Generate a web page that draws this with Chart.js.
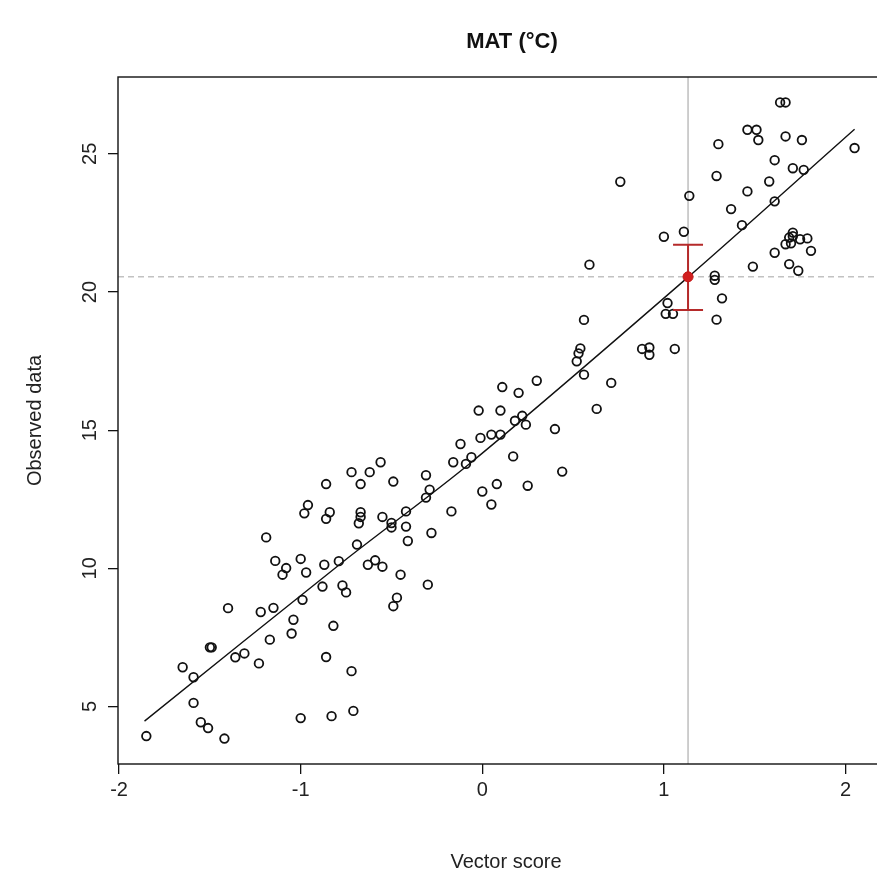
<!DOCTYPE html>
<html>
<head>
<meta charset="utf-8">
<title>MAT (°C)</title>
<script src="https://cdn.jsdelivr.net/npm/chart.js@4.4.1/dist/chart.umd.min.js"></script>
<style>
  html, body { margin: 0; padding: 0; background: #fff; overflow: hidden; }
  #wrap { width: 889px; height: 880px; }
</style>
</head>
<body>
<div id="wrap"><canvas id="grafico"></canvas></div>
<script>
// Vector score (x) and observed MAT (y) for each sample
const vectorScore = [
  -1.85, -1.65, -1.59, -1.59, -1.55, -1.51, -1.50, -1.49, -1.42, -1.40,
  -1.36, -1.31, -1.23, -1.22, -1.17, -1.15, -1.19, -1.14, -1.08, -1.10,
  -1.05, -1.04, -1.00, -1.00, -0.99, -0.97, -0.96, -0.98, -0.88, -0.87,
  -0.86, -0.86, -0.84, -0.86, -0.83, -0.82, -0.79, -0.77, -0.75, -0.72,
  -0.71, -0.72, -0.69, -0.67, -0.67, -0.68, -0.67, -0.63, -0.62, -0.59,
  -0.56, -0.55, -0.55, -0.49, -0.50, -0.50, -0.47, -0.49, -0.45, -0.42,
  -0.42, -0.41, -0.30, -0.31, -0.29, -0.31, -0.28, -0.17, -0.16, -0.09,
  -0.06, -0.12, 0.00, 0.05, 0.08, -0.02, 0.10, -0.01, 0.05, 0.10,
  0.11, 0.20, 0.18, 0.22, 0.24, 0.17, 0.25, 0.30, 0.40, 0.44,
  0.52, 0.53, 0.54, 0.56, 0.56, 0.59, 0.63, 0.71, 0.76, 0.88,
  0.92, 0.92, 1.00, 1.02, 1.01, 1.05, 1.06, 1.11, 1.14, 1.28,
  1.28, 1.29, 1.32, 1.29, 1.30, 1.37, 1.43, 1.46, 1.51, 1.52,
  1.46, 1.49, 1.58, 1.61, 1.61, 1.61, 1.64, 1.67, 1.67, 1.71,
  1.76, 1.77, 1.67, 1.70, 1.69, 1.71, 1.75, 1.71, 1.79, 1.81,
  1.69, 1.74, 2.05
];
const observed = [
  3.93, 6.42, 6.06, 5.13, 4.43, 4.22, 7.14, 7.14, 3.84, 8.56,
  6.78, 6.92, 6.56, 8.42, 7.42, 8.57, 11.12, 10.27, 10.01, 9.77,
  7.64, 8.14, 10.34, 4.58, 8.86, 9.85, 12.29, 11.99, 9.34, 10.13,
  6.79, 13.05, 12.03, 11.79, 4.65, 7.92, 10.26, 9.38, 9.13, 6.28,
  4.84, 13.48, 10.86, 12.03, 11.86, 11.63, 13.05, 10.13, 13.48, 10.29,
  13.84, 10.06, 11.86, 13.14, 11.64, 11.48, 8.94, 8.63, 9.77, 12.06,
  11.51, 10.99, 9.41, 13.37, 12.85, 12.56, 11.28, 12.06, 13.84, 13.78,
  14.02, 14.50, 12.78, 12.31, 13.05, 15.71, 15.71, 14.72, 14.84, 14.84,
  16.56, 16.35, 15.34, 15.52, 15.20, 14.05, 12.99, 16.79, 15.04, 13.50,
  17.49, 17.78, 17.96, 17.01, 18.99, 20.99, 15.77, 16.71, 23.99, 17.94,
  17.99, 17.73, 22.00, 19.60, 19.21, 19.21, 17.94, 22.18, 23.48, 20.59,
  20.44, 19.00, 19.77, 24.20, 25.35, 23.00, 22.42, 25.87, 25.87, 25.50,
  23.64, 20.92, 24.00, 24.77, 23.28, 21.42, 26.86, 26.86, 25.63, 24.48,
  25.50, 24.42, 21.73, 21.76, 21.97, 22.02, 21.91, 22.15, 21.94, 21.49,
  21.01, 20.77, 25.21
];

// fitted curve
const fitX = [-1.86, -0.77, -0.06, 1.13, 2.05];
const fitY = [4.47, 10.22, 13.84, 20.52, 25.89];

// estimate with its interval
const estX = 1.133;
const estY = 20.55;
const estLow = 19.35;
const estHigh = 21.71;

const xTicks = [-2, -1, 0, 1, 2];
const yTicks = [5, 10, 15, 20, 25];

const titulo = 'MAT (°C)';
const tituloX = 'Vector score';
const tituloY = 'Observed data';

// axis limits extended 4% like R does
function limites(v) {
  const mn = Math.min(...v), mx = Math.max(...v);
  const pad = (mx - mn) * 0.04;
  return [mn - pad, mx + pad];
}
const xLim = limites(vectorScore);
const yLim = limites(observed);

const puntos = vectorScore.map((x, i) => ({ x: x, y: observed[i] }));
const curva = fitX.map((x, i) => ({ x: x, y: fitY[i] }));

const FUENTE = '"Liberation Sans", Arial, Helvetica, sans-serif';

const decoR = {
  id: 'decoR',
  beforeDatasetsDraw(chart) {
    const { ctx, chartArea: a, scales: { x, y } } = chart;
    const px = x.getPixelForValue(estX);
    const py = y.getPixelForValue(estY);
    ctx.save();
    ctx.strokeStyle = '#c2c2c2';
    ctx.lineWidth = 1.6;
    ctx.beginPath();
    ctx.moveTo(px, a.top);
    ctx.lineTo(px, a.bottom);
    ctx.stroke();
    ctx.setLineDash([6, 4]);
    ctx.beginPath();
    ctx.moveTo(a.left, py);
    ctx.lineTo(a.right, py);
    ctx.stroke();
    ctx.restore();
  },
  beforeDatasetDraw(chart, args) {
    if (args.index !== 0) return;
    // interval bar below the red point
    const { ctx, scales: { x, y } } = chart;
    const px = x.getPixelForValue(estX);
    const yLo = y.getPixelForValue(estLow);
    const yHi = y.getPixelForValue(estHigh);
    ctx.save();
    ctx.strokeStyle = '#b52a2a';
    ctx.lineWidth = 2;
    ctx.beginPath();
    ctx.moveTo(px, yLo); ctx.lineTo(px, yHi);
    ctx.moveTo(px - 15, yLo); ctx.lineTo(px + 15, yLo);
    ctx.moveTo(px - 15, yHi); ctx.lineTo(px + 15, yHi);
    ctx.stroke();
    ctx.restore();
  },
  afterDraw(chart) {
    const { ctx, chartArea: a, scales: { y } } = chart;
    ctx.save();
    // plot box
    ctx.strokeStyle = '#111';
    ctx.lineWidth = 1.4;
    ctx.strokeRect(a.left, a.top, a.right - a.left, a.bottom - a.top);

    // y tick labels, parallel to the axis
    ctx.fillStyle = '#222';
    ctx.font = '20px ' + FUENTE;
    ctx.textAlign = 'center';
    ctx.textBaseline = 'middle';
    yTicks.forEach(v => {
      const py = y.getPixelForValue(v);
      ctx.save();
      ctx.translate(90, py);
      ctx.rotate(-Math.PI / 2);
      ctx.fillText(String(v), 0, 0);
      ctx.restore();
    });

    // axis titles
    ctx.save();
    ctx.translate(35, (a.top + a.bottom) / 2);
    ctx.rotate(-Math.PI / 2);
    ctx.fillText(tituloY, 0, 0);
    ctx.restore();
    ctx.fillText(tituloX, 506, 862);

    // main title
    ctx.fillStyle = '#111';
    ctx.font = 'bold 22px ' + FUENTE;
    ctx.fillText(titulo, 512, 42);
    ctx.restore();
  }
};

const ctx = document.getElementById('grafico').getContext('2d');
const grafico = new Chart(ctx, {
  type: 'scatter',
  data: {
    datasets: [
      {
        label: 'estimate',
        data: [{ x: estX, y: estY }],
        pointRadius: 5,
        pointBackgroundColor: '#d21f1f',
        pointBorderColor: '#c21818',
        pointBorderWidth: 1
      },
      {
        type: 'line',
        label: 'fit',
        data: curva,
        borderColor: '#111',
        borderWidth: 1.4,
        pointRadius: 0,
        fill: false,
        tension: 0.3
      },
      {
        label: 'observed',
        data: puntos,
        pointRadius: 4.3,
        pointBackgroundColor: 'rgba(0,0,0,0)',
        pointBorderColor: '#111',
        pointBorderWidth: 1.8
      }
    ]
  },
  options: {
    responsive: true,
    maintainAspectRatio: false,
    animation: false,
    devicePixelRatio: 1,
    layout: { padding: { top: 77, right: 0, left: 0, bottom: 0 } },
    plugins: {
      legend: { display: false },
      tooltip: { enabled: false },
      title: { display: false }
    },
    scales: {
      x: {
        type: 'linear',
        min: xLim[0],
        max: xLim[1],
        afterBuildTicks(scale) { scale.ticks = xTicks.map(v => ({ value: v })); },
        afterFit(scale) { scale.height = 116; },
        grid: { drawOnChartArea: false, drawTicks: true, tickLength: 10, color: '#111', lineWidth: 1.3 },
        border: { display: false },
        ticks: {
          color: '#222',
          padding: 4,
          maxRotation: 0,
          font: { size: 20, family: FUENTE },
          callback: v => String(v)
        }
      },
      y: {
        type: 'linear',
        min: yLim[0],
        max: yLim[1],
        afterBuildTicks(scale) { scale.ticks = yTicks.map(v => ({ value: v })); },
        afterFit(scale) { scale.width = 118; },
        grid: { drawOnChartArea: false, drawTicks: true, tickLength: 10, color: '#111', lineWidth: 1.3 },
        border: { display: false },
        ticks: { display: false }
      }
    }
  },
  plugins: [decoR]
});
</script>
</body>
</html>
